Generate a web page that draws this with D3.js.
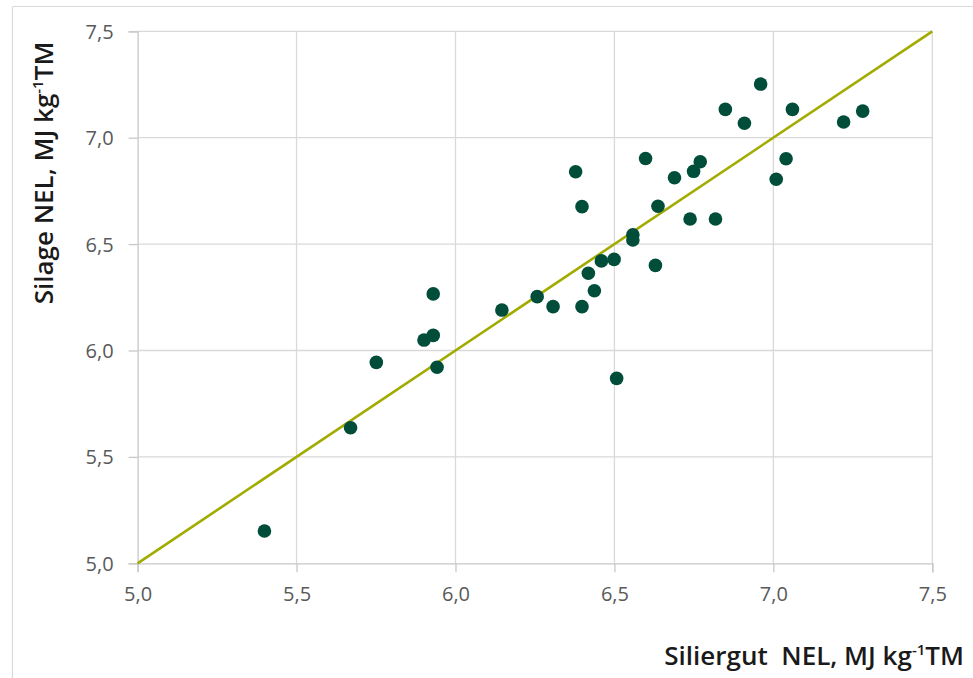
<!DOCTYPE html>
<html>
<head>
<meta charset="utf-8">
<script src="https://cdn.jsdelivr.net/npm/d3@7"></script>
<style>
  html, body { margin: 0; padding: 0; background: #fff; }
  svg { display: block; }
</style>
</head>
<body>
<svg id="chart" width="973" height="678"></svg>
<script>
// Data: Siliergut NEL (x) vs Silage NEL (y), MJ kg-1 TM
const siliergutNEL = [5.399, 5.670, 5.751, 5.901, 5.930, 5.930, 5.942, 6.146, 6.257, 6.307,
  6.378, 6.398, 6.398, 6.418, 6.437, 6.459, 6.499, 6.507, 6.558, 6.558,
  6.598, 6.629, 6.637, 6.689, 6.738, 6.749, 6.770, 6.818, 6.849, 6.909,
  6.960, 7.009, 7.040, 7.060, 7.221, 7.281];
const silageNEL = [5.152, 5.637, 5.944, 6.049, 6.071, 6.266, 5.921, 6.190, 6.253, 6.206,
  6.840, 6.676, 6.206, 6.363, 6.281, 6.421, 6.428, 5.869, 6.544, 6.519,
  6.902, 6.400, 6.678, 6.812, 6.618, 6.842, 6.887, 6.618, 7.133, 7.068,
  7.252, 6.805, 6.901, 7.133, 7.074, 7.125];
const lineX = [5.0, 7.5];
const lineY = [5.0, 7.5];
const xTicks = [5.0, 5.5, 6.0, 6.5, 7.0, 7.5];
const yTicks = [5.0, 5.5, 6.0, 6.5, 7.0, 7.5];

const svg = d3.select("#chart");
const fmt = v => d3.format(".1f")(v).replace(".", ",");

const x = d3.scaleLinear().domain([5.0, 7.5]).range([137.6, 932.3]);
const y = d3.scaleLinear().domain([5.0, 7.5]).range([563.3, 31.3]);

// outer frame (top and left edges visible)
svg.append("line").attr("x1", 12.5).attr("x2", 973).attr("y1", 6.5).attr("y2", 6.5)
  .attr("stroke", "#d9d9d9").attr("stroke-width", 1.2);
svg.append("line").attr("x1", 12.5).attr("x2", 12.5).attr("y1", 6.5).attr("y2", 678)
  .attr("stroke", "#d9d9d9").attr("stroke-width", 1.2);

// gridlines
const grid = svg.append("g");
grid.selectAll(".gx").data(xTicks.slice(1)).join("line")
  .attr("x1", d => x(d)).attr("x2", d => x(d))
  .attr("y1", y(7.5)).attr("y2", y(5.0))
  .attr("stroke", "#d9d9d9").attr("stroke-width", 1.3);
grid.selectAll(".gy").data(yTicks.slice(1)).join("line")
  .attr("x1", x(5.0)).attr("x2", x(7.5))
  .attr("y1", d => y(d)).attr("y2", d => y(d))
  .attr("stroke", "#d9d9d9").attr("stroke-width", 1.3);

// axes
const xAxis = svg.append("g").attr("transform", `translate(0,${y(5.0)})`)
  .call(d3.axisBottom(x).tickValues(xTicks).tickFormat(fmt).tickSize(9).tickPadding(15));
const yAxis = svg.append("g").attr("transform", `translate(${x(5.0)},0)`)
  .call(d3.axisLeft(y).tickValues(yTicks).tickFormat(fmt).tickSize(9).tickPadding(15));
[xAxis, yAxis].forEach(a => {
  a.select(".domain").attr("stroke", "#c8c8c8").attr("stroke-width", 1.3);
  a.selectAll(".tick line").attr("stroke", "#c8c8c8").attr("stroke-width", 1.3);
  a.selectAll(".tick text").attr("fill", "#595959")
    .style("font-family", "'Open Sans', 'Noto Sans', sans-serif").style("font-size", "20px");
});
yAxis.selectAll(".tick text").attr("dy", "0.35em");

// 1:1 line
const lineData = lineX.map((v, i) => [v, lineY[i]]);
svg.append("path").datum(lineData)
  .attr("d", d3.line().x(d => x(d[0])).y(d => y(d[1])))
  .attr("fill", "none").attr("stroke", "#a1ab00").attr("stroke-width", 2.6);

// points
svg.append("g").selectAll("circle").data(siliergutNEL.map((v, i) => [v, silageNEL[i]]))
  .join("circle")
  .attr("cx", d => x(d[0])).attr("cy", d => y(d[1])).attr("r", 6.8)
  .attr("fill", "#004d3a");

// axis titles
const titleFont = "'Open Sans', 'Noto Sans', sans-serif";
const xt = svg.append("text").attr("x", 964).attr("y", 665).attr("text-anchor", "end")
  .style("font-family", titleFont).style("font-size", "26px").style("font-weight", "600")
  .attr("fill", "#1a1a1a");
xt.append("tspan").text("Siliergut\u00a0 NEL, MJ kg");
xt.append("tspan").attr("dy", -10).style("font-size", "15px").text("-1");
xt.append("tspan").attr("dy", 10).text("TM");

const yt = svg.append("text").attr("transform", "translate(53,173) rotate(-90)")
  .attr("text-anchor", "middle")
  .style("font-family", titleFont).style("font-size", "26px").style("font-weight", "600")
  .attr("fill", "#1a1a1a");
yt.append("tspan").text("Silage NEL, MJ kg");
yt.append("tspan").attr("dy", -10).style("font-size", "15px").text("-1");
yt.append("tspan").attr("dy", 10).text("TM");
</script>
</body>
</html>
